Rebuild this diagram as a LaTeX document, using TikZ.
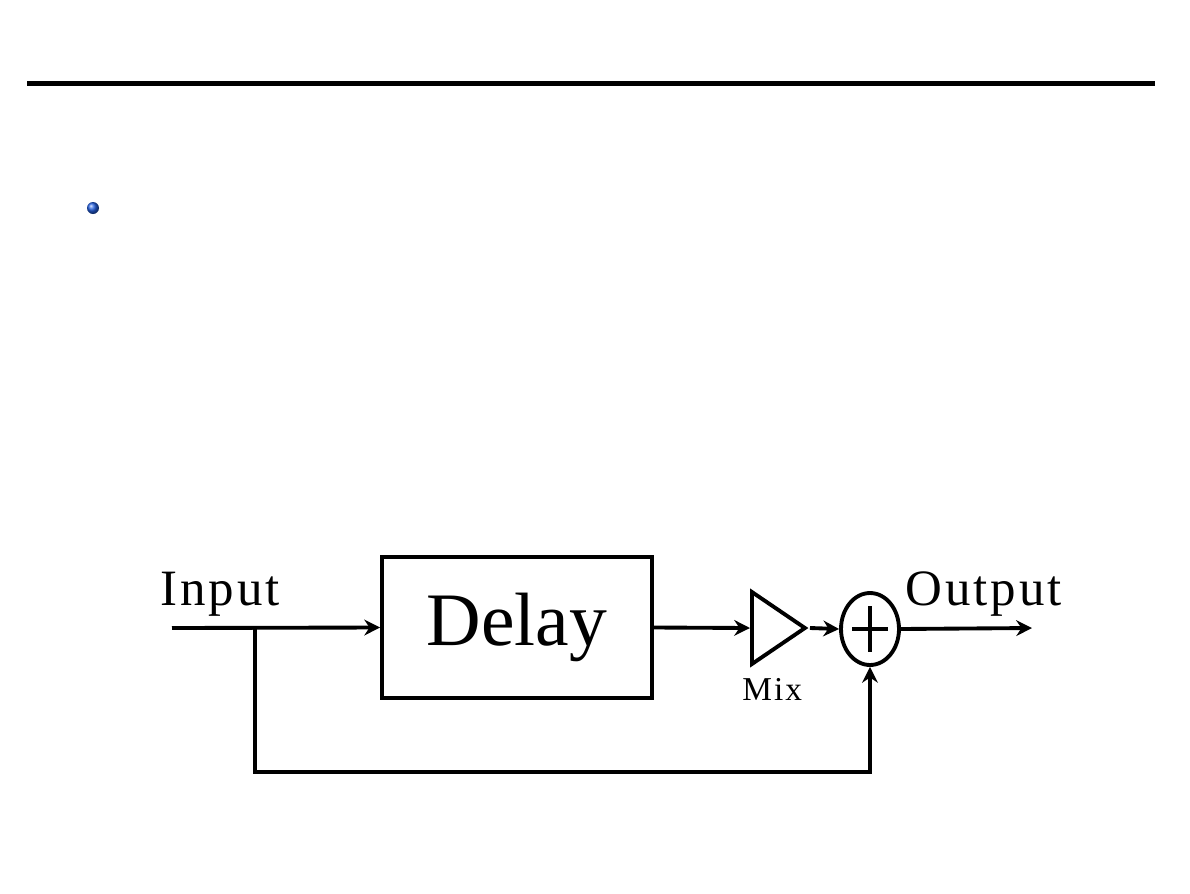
\documentclass[tikz,border=0pt]{standalone}
\usepackage{fontspec}
\setmainfont{Liberation Serif}
\newfontfamily\wideserif[LetterSpace=6]{Liberation Serif}
\usetikzlibrary{positioning, shapes.geometric, arrows.meta, calc}

\begin{document}
\begin{tikzpicture}[x=0.02cm, y=-0.02cm,
    wire/.style={line width=2.2pt},
    arr/.style={wire, -{Stealth[length=9pt, width=9pt, inset=3pt]}},
    block/.style={draw, line width=2.2pt, rectangle, minimum width=5.4cm, minimum height=2.82cm, inner sep=0pt, font=\fontsize{43}{50}\selectfont},
    amp/.style={draw, line width=2.2pt, isosceles triangle, isosceles triangle stretches, minimum width=1.44cm, minimum height=1.06cm, inner sep=0pt},
    summer/.style={draw, line width=2.2pt, ellipse, minimum width=1.16cm, minimum height=1.44cm, inner sep=0pt},
    lbl/.style={anchor=base west, inner sep=0pt, font=\wideserif\fontsize{29}{34}\selectfont}]
        \useasboundingbox (0,0) rectangle (1190,893);

        % slide rule and bullet
        \draw[line width=2.8pt] (27,83.5) -- (1155,83.5);
        \node[circle, minimum size=0.24cm, inner sep=0pt, ball color={rgb,255:red,35;green,95;blue,225}] (dot) at (93,208) {};

        % blocks
        \node[block] (delay) at (517,627.5) {Delay};
        \node[amp, anchor=lower side] (mix) at (750,628) {};
        \node[summer] (sum) at (870,629) {};
        \draw[wire] ($(sum.center)+(-18,0)$) -- ($(sum.center)+(18,0)$);
        \draw[wire] ($(sum.center)+(0,-23)$) -- ($(sum.center)+(0,23)$);

        \coordinate (in) at (172,628);
        \coordinate (split) at (255,628);
        \coordinate (out) at (1032,628);

        % signal path
        \draw[arr] (in) -- (delay.west);
        \draw[arr] (delay.east) -- (mix.lower side);
        \draw[arr] (mix.apex) -- (sum.west);
        \draw[arr] (sum.east) -- (out);
        \draw[arr] (split) -- ++(0,144) -| (sum.south);

        % labels
        \node[lbl] (inlbl) at (160,605) {Input};
        \node[lbl] (outlbl) at (905,605) {Output};
        \node[lbl, font=\wideserif\fontsize{19}{23}\selectfont] (mixlbl) at (742,700) {Mix};
\end{tikzpicture}
\end{document}
